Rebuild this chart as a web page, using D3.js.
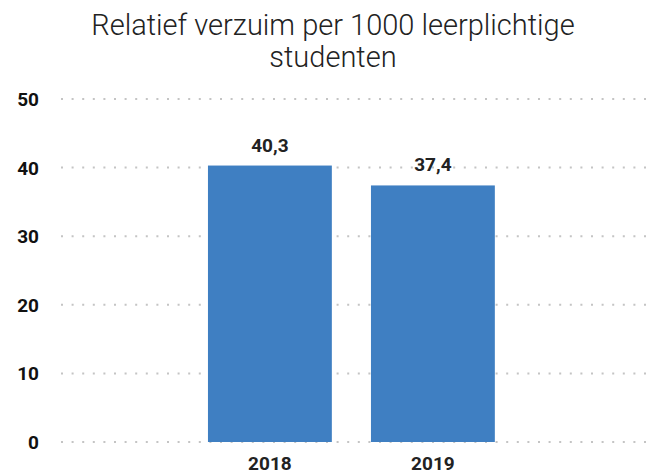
<!DOCTYPE html>
<html>
<head>
<meta charset="utf-8">
<script src="https://cdn.jsdelivr.net/npm/d3@7"></script>
<style>
  body { margin: 0; background: #fff; }
  text { font-family: "Roboto", "DejaVu Sans", sans-serif; }
</style>
</head>
<body>
<svg id="chart" width="653" height="475"></svg>
<script>
const years = ["2018", "2019"];
const verzuim = [40.3, 37.4];
const yTicks = [0, 10, 20, 30, 40, 50];
const titleLines = ["Relatief verzuim per 1000 leerplichtige", "studenten"];

const svg = d3.select("#chart");

// y: 0 -> 442, 50 -> 99
const y = d3.scaleLinear().domain([0, 50]).range([442, 99]);

// bars roughly 208-332 and 371-495
const x = d3.scaleBand()
    .domain(years)
    .range([188.4, 514.4])
    .paddingInner(0.24)
    .paddingOuter(0.12);

// title
svg.append("g").selectAll("text")
    .data(titleLines)
    .enter().append("text")
    .attr("x", 333)
    .attr("y", (d, i) => 35 + i * 32)
    .attr("text-anchor", "middle")
    .style("font-size", "29px")
    .style("font-weight", 300)
    .style("fill", "#222")
    .text(d => d);

// dotted gridlines
svg.append("g").selectAll("line")
    .data(yTicks)
    .enter().append("line")
    .attr("x1", 61)
    .attr("x2", 650)
    .attr("y1", d => y(d))
    .attr("y2", d => y(d))
    .attr("stroke", "#c4c4c4")
    .attr("stroke-width", 2)
    .attr("stroke-dasharray", "2,8.6");

// y tick labels
svg.append("g").selectAll("text")
    .data(yTicks)
    .enter().append("text")
    .attr("x", 39)
    .attr("y", d => y(d) + 7)
    .attr("text-anchor", "end")
    .style("font-size", "19px")
    .style("font-weight", 700)
    .style("fill", "#111")
    .text(d => d);

// bars
svg.append("g").selectAll("rect")
    .data(verzuim)
    .enter().append("rect")
    .attr("x", (d, i) => x(years[i]))
    .attr("width", x.bandwidth())
    .attr("y", d => y(d))
    .attr("height", d => y(0) - y(d))
    .attr("fill", "#3f7fc2");

// value labels
svg.append("g").selectAll("text")
    .data(verzuim)
    .enter().append("text")
    .attr("x", (d, i) => x(years[i]) + x.bandwidth() / 2)
    .attr("y", d => y(d) - 14)
    .attr("text-anchor", "middle")
    .style("font-size", "19px")
    .style("font-weight", 700)
    .style("fill", "#222")
    .text(d => d.toFixed(1).replace(".", ","));

// x labels
svg.append("g").selectAll("text")
    .data(years)
    .enter().append("text")
    .attr("x", d => x(d) + x.bandwidth() / 2)
    .attr("y", 470)
    .attr("text-anchor", "middle")
    .style("font-size", "19px")
    .style("font-weight", 700)
    .style("fill", "#222")
    .text(d => d);
</script>
</body>
</html>
